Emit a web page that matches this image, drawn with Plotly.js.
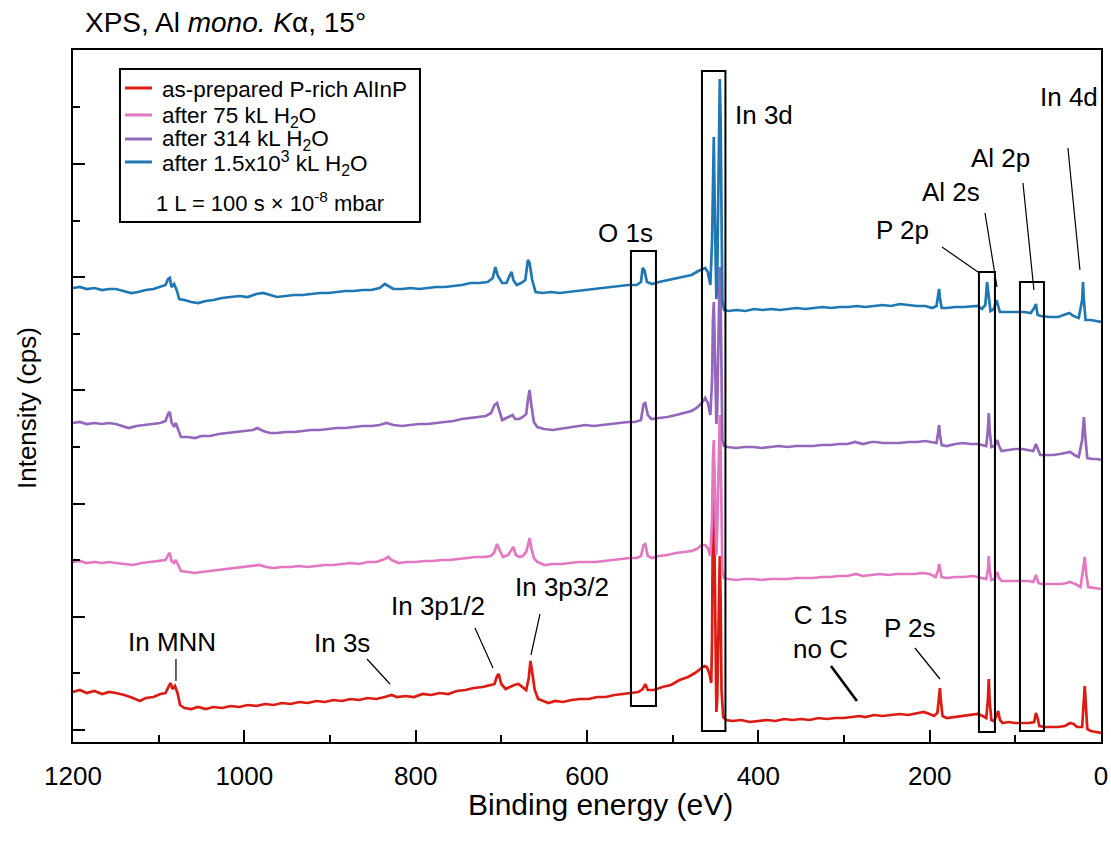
<!DOCTYPE html>
<html>
<head>
<meta charset="utf-8">
<script src="https://cdn.plot.ly/plotly-3.0.1.min.js"></script>
<style>html,body{margin:0;padding:0;background:#fff;}#chart{width:1111px;height:842px;}</style>
</head>
<body>
<div id="chart"></div>
<script>
// ---- data (binding energy in eV, intensity in arbitrary offset units) ----
const seriesNames = ["as-prepared P-rich AlInP", "after 75 kL H<sub>2</sub>O", "after 314 kL H<sub>2</sub>O", "after 1.5x10<sup>3</sup> kL H<sub>2</sub>O"];
const seriesColors = ["#dc1c13", "#e377c2", "#9467bd", "#1f77b4"];
const exposureNote = "1 L = 100 s × 10<sup>-8</sup> mbar";
const xTitle = "Binding energy (eV)";
const yTitle = "Intensity (cps)";

const eRed = [1200,1192,1184,1175,1166,1158,1150,1140,1130,1122,1115,1106,1098,1092,1088,1086,1084,1081,1078,1075,1070,1062,1054,1045,1036,1026,1016,1006,996,986,976,966,956,946,936,926,916,906,896,886,876,866,856,846,836,828,822,812,802,792,782,772,762,752,742,732,722,714,708,705,703,700,695,690,685,680,675,671,668,666,664,661,657,652,645,637,628,618,608,598,588,578,568,558,548,540,535,532,529,522,512,502,492,482,474,467,463,460,457,455,454,453,452,451,450,449,448,446,445,444,443,441,438,430,420,410,400,390,380,370,360,350,340,330,320,310,300,290,282,275,265,255,245,235,225,215,207,200,195,191,189,188,187,185,180,172,162,152,144,138,134,132,131,130,128,125,122,120,118,115,108,100,92,84,78,76,74,72,66,58,50,42,36,32,28,22,20,19,18,16,12,6,0];
const iRed = [38,40,37,39,36,38,37,35,32,29,32,33,36,37,44,47,41,44,37,25,22,21,23,21,23,22,24,23,25,24,26,25,27,26,28,27,29,28,30,29,31,30,32,31,33,35,33,34,33,36,35,37,36,39,40,42,43,45,46,54,56,46,41,43,45,46,43,40,52,69,58,40,31,29,27,29,28,30,31,31,33,33,35,36,37,38,41,46,40,40,43,45,50,53,57,61,64,63,56,47,90,230,265,170,50,18,30,130,174,130,40,13,10,9,10,8,9,10,9,11,10,11,10,12,11,12,12,13,14,13,15,14,15,16,15,17,18,16,14,17,35,42,30,14,12,13,14,15,16,14,12,30,51,30,10,9,14,19,10,7,8,7,7,7,8,17,12,4,3,3,3,4,7,6,3,3,30,44,30,1,-1,-2,-3];

const ePink = [1200,1192,1184,1175,1166,1158,1150,1140,1130,1120,1110,1100,1092,1089,1087,1085,1082,1080,1077,1074,1066,1058,1050,1040,1030,1020,1010,1000,990,982,975,966,956,946,936,926,916,906,896,886,876,866,856,846,836,832,828,820,810,800,790,780,770,760,750,740,730,720,712,708,705,702,698,692,688,686,683,679,675,671,668,667,665,662,658,650,640,630,620,610,600,590,580,570,560,550,542,537,534,532,529,524,516,506,496,486,478,472,466,462,459,456,454,453,452,451,450,449,448,446,445,444,443,442,440,436,426,416,406,396,386,376,366,356,346,336,326,316,306,296,286,278,268,258,248,238,228,218,208,200,193,190,189,188,186,180,170,160,150,144,138,134,132,131,130,128,124,121,119,116,108,100,92,84,79,76,73,70,62,54,46,40,36,30,24,21,19,17,15,8,0];
const iPink = [168,169,167,168,167,168,167,166,165,167,168,169,170,175,177,169,167,170,165,159,158,157,158,159,160,161,162,163,164,165,163,162,163,163,164,163,164,165,165,166,167,166,168,168,171,173,170,167,168,168,169,169,170,170,171,172,173,173,174,178,186,180,173,175,180,183,175,173,174,178,188,192,182,172,168,165,166,166,167,168,168,168,169,170,171,172,172,174,185,186,174,172,174,175,177,178,179,181,185,185,182,174,210,270,290,250,190,175,200,290,315,280,190,160,152,151,150,151,151,150,151,151,151,152,152,152,153,153,154,154,156,154,155,156,155,156,156,156,157,156,153,160,166,162,153,152,153,153,154,153,152,151,160,174,160,150,151,158,152,149,149,149,149,149,148,155,147,146,146,146,146,147,148,146,143,160,173,155,143,142,141];

const ePurple = [1200,1192,1184,1175,1166,1158,1150,1142,1135,1126,1116,1106,1098,1092,1089,1087,1085,1082,1080,1077,1074,1066,1058,1050,1040,1030,1020,1010,1000,990,985,978,970,962,952,942,932,922,912,902,892,882,872,862,852,842,834,826,816,806,796,786,776,766,756,746,738,728,718,712,708,705,702,699,694,689,687,684,679,675,671,669,667,665,662,658,650,640,632,622,612,602,592,582,572,562,552,544,537,534,532,529,525,516,506,496,486,478,472,466,462,459,456,454,453,452,451,450,449,448,446,445,444,443,442,440,436,426,416,406,396,386,376,366,356,346,336,326,316,306,296,287,278,268,262,255,245,235,225,215,205,197,192,190,189,188,186,180,170,161,152,144,138,134,132,131,130,128,124,121,119,116,108,100,92,84,79,76,73,71,64,56,48,40,36,31,26,22,20,18,16,10,5,0];
const iPurple = [307,308,306,307,306,307,306,304,302,304,305,306,307,309,316,318,308,303,307,300,293,293,292,294,294,296,297,298,299,300,302,299,297,297,298,298,299,300,300,301,302,302,303,304,304,305,307,305,304,305,306,306,307,308,309,311,312,313,314,317,325,327,318,310,312,314,315,311,311,313,316,330,340,325,308,303,301,300,301,302,303,305,304,305,306,307,308,308,310,326,327,315,311,312,313,315,317,319,322,327,332,327,315,350,410,428,390,330,306,320,430,463,430,330,290,284,283,282,283,283,282,283,284,283,284,284,284,285,285,286,286,288,286,288,288,287,287,287,288,288,289,288,287,298,305,295,285,284,286,287,286,286,285,284,300,317,300,283,284,290,284,279,280,281,281,280,279,286,278,275,275,275,276,277,278,275,273,290,313,290,272,271,271,270];

const eBlue = [1200,1192,1184,1175,1166,1158,1150,1140,1132,1124,1115,1106,1098,1092,1089,1087,1085,1082,1079,1076,1070,1062,1054,1045,1036,1026,1016,1006,996,986,978,970,962,952,942,932,922,912,902,892,882,872,862,852,842,836,832,826,816,806,796,786,776,766,756,746,736,726,716,710,707,704,699,694,690,688,686,682,677,672,669,667,664,660,652,642,632,622,612,602,592,582,572,562,552,542,537,535,533,530,524,516,506,496,486,478,470,465,462,459,456,454,453,452,451,450,449,448,446,445,444,443,442,440,435,425,415,405,395,385,375,365,355,345,335,325,315,305,295,285,275,265,255,245,235,225,215,205,197,192,190,189,188,186,180,170,160,150,144,139,135,133,131,129,125,122,120,118,110,100,90,82,78,76,74,70,60,50,42,37,32,26,22,21,20,18,12,6,0];
const iBlue = [442,443,441,442,440,441,441,439,437,438,440,441,443,445,451,452,443,446,440,431,430,428,427,429,430,432,433,434,433,436,437,435,433,434,435,435,436,437,437,438,439,439,440,440,442,446,444,441,441,442,441,442,443,443,444,445,447,447,448,452,463,454,447,447,455,458,450,445,447,450,470,467,450,438,437,438,437,438,439,440,441,442,443,444,445,445,448,462,460,448,446,448,450,452,454,455,459,461,462,458,445,490,570,593,530,450,431,450,580,651,610,480,430,420,419,420,419,421,420,421,420,421,422,421,422,423,422,423,423,424,423,424,425,424,426,425,424,424,422,424,435,441,432,422,422,423,423,424,424,421,425,448,435,419,421,430,424,418,418,418,418,417,422,426,415,414,413,413,415,417,414,412,430,448,430,410,410,409,408];

const energies = [eRed, ePink, ePurple, eBlue];
const intensities = [iRed, iPink, iPurple, iBlue];

// axis ticks
const xTickVals = [0, 200, 400, 600, 800, 1000, 1200];
const xTickText = ["0", "200", "400", "600", "800", "1000", "1200"];

// ---- traces ----
const traces = energies.map((e, k) => ({
  type: "scatter", mode: "lines",
  x: e, y: intensities[k],
  name: seriesNames[k],
  line: {color: seriesColors[k], width: 2.7},
  hoverinfo: "skip"
}));

// ---- marking boxes (E range, intensity range) ----
const boxes = [
  {e0: 548.7, e1: 519.5, y0: 24, y1: 479},   // O 1s
  {e0: 465.8, e1: 438.4, y0: -1, y1: 659},   // In 3d
  {e0: 142.5, e1: 123.8, y0: -2, y1: 458},   // P 2p / Al 2s
  {e0: 94.6,  e1: 66.6,  y0: -1, y1: 448}    // Al 2p
];
// leader lines [e0, y0, e1, y1, width]
const leaders = [
  [38.6, 582, 24.6, 460, 1.2],
  [91.1, 547, 78.3, 440, 1.2],
  [135.4, 517, 121.4, 443, 1.2],
  [185.6, 483, 143.6, 458, 1.2],
  [1079.8, 71, 1079.8, 49, 1.2],
  [856.8, 71, 830, 46, 1.2],
  [730.8, 102, 709.7, 62, 1.2],
  [654.9, 116, 665.4, 75, 1.2],
  [315.2, 64, 284.9, 29, 2.6],
  [217.2, 82, 188, 51, 1.2]
];
// labels [text, E, y]
const labels = [
  ["In 3d", 393.4, 615],
  ["O 1s", 554.5, 497],
  ["In 4d", 37.4, 633],
  ["Al 2p", 116.8, 572],
  ["Al 2s", 175.1, 538],
  ["P 2p", 231.2, 500],
  ["In MNN", 1084.4, 88],
  ["In 3s", 886, 87],
  ["In 3p1/2", 774, 124],
  ["In 3p3/2", 629.2, 143],
  ["C 1s<br>no C", 328, 98],
  ["P 2s", 223, 102]
];

const FONT = "Liberation Sans, Arial, Helvetica, sans-serif";

const shapes = [];
boxes.forEach(b => shapes.push({type: "rect", xref: "x", yref: "y", x0: b.e0, x1: b.e1, y0: b.y0, y1: b.y1,
  line: {color: "black", width: 2}, fillcolor: "rgba(0,0,0,0)", layer: "above"}));
leaders.forEach(l => shapes.push({type: "line", xref: "x", yref: "y", x0: l[0], y0: l[1], x1: l[2], y1: l[3],
  line: {color: "black", width: l[4]}}));

// ---- legend (drawn in paper coordinates) ----
shapes.push({type: "rect", xref: "paper", yref: "paper", x0: 0.0457, x1: 0.3375, y0: 0.7514, y1: 0.9725,
  line: {color: "black", width: 2}, fillcolor: "rgba(0,0,0,0)"});
const legendLineY = [0.9451, 0.9061, 0.8714, 0.8382];
const legendTextY = [0.9422, 0.9032, 0.8699, 0.8367];
seriesNames.forEach((n, k) => {
  shapes.push({type: "line", xref: "paper", yref: "paper", x0: 0.0506, x1: 0.0768, y0: legendLineY[k], y1: legendLineY[k],
    line: {color: seriesColors[k], width: 3}});
});

const annotations = labels.map(t => ({text: t[0], x: t[1], y: t[2], xref: "x", yref: "y",
  showarrow: false, font: {family: FONT, size: 26, color: "black"}}));
seriesNames.forEach((n, k) => annotations.push({text: n, xref: "paper", yref: "paper", x: 0.0846, y: legendTextY[k],
  xanchor: "left", yanchor: "middle", showarrow: false, font: {family: FONT, size: 22.5, color: "black"}}));
annotations.push({text: exposureNote, xref: "paper", yref: "paper", x: 0.1916, y: 0.7803,
  xanchor: "center", yanchor: "middle", showarrow: false, font: {family: FONT, size: 22, color: "black"}});
// axis titles
annotations.push({text: xTitle, xref: "paper", yref: "paper", x: 0.5127, y: -0.0896,
  xanchor: "center", yanchor: "middle", showarrow: false, font: {family: FONT, size: 30, color: "black"}});
annotations.push({text: yTitle, xref: "paper", yref: "paper", x: -0.0447, y: 0.4827, textangle: -90,
  xanchor: "center", yanchor: "middle", showarrow: false, font: {family: FONT, size: 26, color: "black"}});

const layout = {
  width: 1111, height: 842,
  margin: {l: 73, r: 10, t: 50, b: 100},
  paper_bgcolor: "white", plot_bgcolor: "white",
  font: {family: FONT, color: "black"},
  showlegend: false,
  title: {text: "XPS, Al <i>mono. K</i>α, 15°", x: 0.0765, xanchor: "left", xref: "container",
    y: 0.974, yanchor: "middle", yref: "container", font: {family: FONT, size: 28, color: "black"}},
  xaxis: {
    range: [1200, 0], showgrid: false, zeroline: false,
    showline: true, linecolor: "black", linewidth: 2, mirror: true,
    ticks: "inside", ticklen: 12, tickwidth: 2, tickcolor: "black",
    tickmode: "array", tickvals: xTickVals, ticktext: xTickText,
    minor: {ticks: "inside", ticklen: 7, tickwidth: 2, tickcolor: "black", dtick: 100, tick0: 0, showgrid: false},
    tickfont: {family: FONT, size: 26, color: "black"}, ticklabelstandoff: 10
  },
  yaxis: {
    range: [-12, 680], showgrid: false, zeroline: false,
    showline: true, linecolor: "black", linewidth: 2, mirror: true,
    ticks: "inside", ticklen: 12, tickwidth: 2, tickcolor: "black",
    tickmode: "linear", tick0: 0, dtick: 113.2, showticklabels: false,
    minor: {ticks: "inside", ticklen: 7, tickwidth: 2, tickcolor: "black", dtick: 56.6, tick0: 0, showgrid: false}
  },
  shapes: shapes,
  annotations: annotations
};

Plotly.newPlot("chart", traces, layout, {displayModeBar: false, staticPlot: true});
</script>
</body>
</html>
